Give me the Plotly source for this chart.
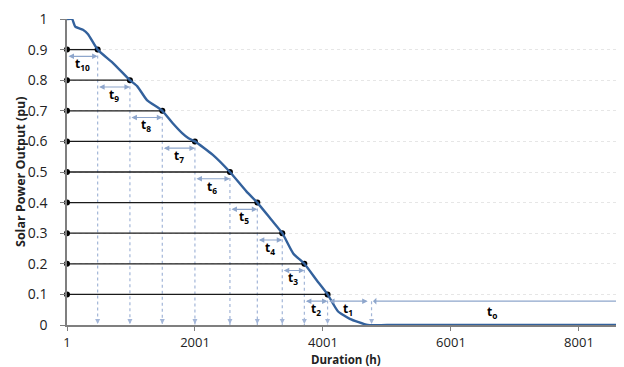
import plotly.graph_objects as go

# Duration curve (hours vs per-unit output)
duration = [1, 80, 130, 250, 330, 480, 720, 984, 1100, 1250, 1490, 1650, 1800, 1900, 2000,
            2280, 2547, 2807, 2975, 3198, 3365, 3536, 3710, 3900, 4073, 4234, 4420, 4700, 5000, 8760]
power = [1.0, 1.0, 0.975, 0.965, 0.95, 0.9, 0.856, 0.8, 0.78, 0.735, 0.7, 0.66, 0.627, 0.61, 0.6,
         0.556, 0.5, 0.436, 0.4, 0.343, 0.3, 0.234, 0.2, 0.147, 0.1, 0.045, 0.02, 0.0, 0.0, 0.0]

# Level crossings
levels = [0.9, 0.8, 0.7, 0.6, 0.5, 0.4, 0.3, 0.2, 0.1]
cross_h = [480, 984, 1490, 2000, 2547, 2975, 3365, 3710, 4073]
zero_h = 4700
t0_start = 4760
x_end = 8705

labels = ["t<sub>10</sub>", "t<sub>9</sub>", "t<sub>8</sub>", "t<sub>7</sub>", "t<sub>6</sub>",
          "t<sub>5</sub>", "t<sub>4</sub>", "t<sub>3</sub>", "t<sub>2</sub>", "t<sub>1</sub>", "t<sub>o</sub>"]

y_ticks = [0, 0.1, 0.2, 0.3, 0.4, 0.5, 0.6, 0.7, 0.8, 0.9, 1]
y_ticktext = ["0", "0.1", "0.2", "0.3", "0.4", "0.5", "0.6", "0.7", "0.8", "0.9", "1"]
x_ticks = [1, 2001, 4001, 6001, 8001]
x_ticktext = ["1", "2001", "4001", "6001", "8001"]

FONT = "Open Sans"
ARROW = "#8ea6cc"
VDOT = "#a3b6d8"

fig = go.Figure()

# vertical dotted drop lines
vx, vy = [], []
for h, lv in zip(cross_h, levels):
    vx += [h, h, None]
    vy += [lv, 0, None]
vx += [t0_start, t0_start, None]
vy += [0.078, 0, None]
fig.add_trace(go.Scatter(x=vx, y=vy, mode="lines",
                         line=dict(color=VDOT, width=1.2, dash="dot"),
                         hoverinfo="skip", showlegend=False))

# black horizontal lines with end dots
for h, lv in zip(cross_h, levels):
    fig.add_trace(go.Scatter(x=[1, h], y=[lv, lv], mode="lines+markers",
                             line=dict(color="#1a1a1a", width=1.3),
                             marker=dict(color="black", size=6),
                             cliponaxis=False, hoverinfo="skip", showlegend=False))

# curve
fig.add_trace(go.Scatter(x=duration, y=power, mode="lines",
                         line=dict(color="#33619c", width=2.4, shape="spline", smoothing=0.5),
                         hoverinfo="skip", showlegend=False))

annotations = []
# interval arrows and labels
starts = [1] + cross_h
ends = cross_h + [zero_h]
arrow_lv = levels + [0.1]
for i, (s, e, lv) in enumerate(zip(starts, ends, arrow_lv)):
    ya = lv - 0.022
    annotations.append(dict(x=e, y=ya, ax=s, ay=ya, xref="x", yref="y", axref="x", ayref="y",
                            text="", showarrow=True, arrowside="end+start", arrowhead=2,
                            arrowsize=1, arrowwidth=1.1, arrowcolor=ARROW, standoff=0, startstandoff=0))
    annotations.append(dict(x=(s + e) / 2, y=lv - 0.048, xref="x", yref="y",
                            text="<b>" + labels[i] + "</b>", showarrow=False,
                            font=dict(family=FONT, size=12, color="black")))
# t0 arrow
annotations.append(dict(x=x_end, y=0.078, ax=t0_start, ay=0.078, xref="x", yref="y", axref="x", ayref="y",
                        text="", showarrow=True, arrowside="start", arrowhead=2,
                        arrowsize=1, arrowwidth=1.1, arrowcolor=ARROW, standoff=0, startstandoff=0))
annotations.append(dict(x=6640, y=0.044, xref="x", yref="y", text="<b>" + labels[10] + "</b>",
                        showarrow=False, font=dict(family=FONT, size=12, color="black")))
# arrowheads at the bottom of drop lines
for h in cross_h + [t0_start]:
    annotations.append(dict(x=h, y=0, xref="x", yref="y", ax=0, ay=-7, text="", showarrow=True,
                            arrowhead=2, arrowsize=1, arrowwidth=1.0, arrowcolor=VDOT, standoff=1))
# axis titles
annotations.append(dict(x=0.5, y=-34 / 306, xref="paper", yref="paper", yanchor="middle",
                        text="<b>Duration (h)</b>", showarrow=False, borderpad=0,
                        font=dict(family=FONT, size=11.5, color="#222")))
annotations.append(dict(x=-47 / 557, y=0.5, xref="paper", yref="paper", xanchor="center", yanchor="middle",
                        text="<b>Solar Power Output (pu)</b>", showarrow=False, textangle=-90,
                        font=dict(family=FONT, size=12.5, color="#222")))

fig.update_layout(
    width=624, height=367,
    margin=dict(l=59, r=8, t=11, b=50, autoexpand=False),
    paper_bgcolor="white", plot_bgcolor="white",
    font=dict(family=FONT, size=14, color="#222"),
    annotations=annotations,
    xaxis=dict(range=[1, x_end], tickmode="array", tickvals=x_ticks, ticktext=x_ticktext,
               showgrid=False, zeroline=False, showline=True, linecolor="#7f7f7f", linewidth=1.5,
               ticks="outside", ticklen=4, tickcolor="#7f7f7f", ticklabelstandoff=1,
               automargin=False,
               tickfont=dict(family=FONT, size=13, color="#222")),
    yaxis=dict(range=[0, 1], tickmode="array", tickvals=y_ticks, ticktext=y_ticktext,
               showgrid=True, gridcolor="#e6e6e6", griddash="dot", gridwidth=1.2,
               zeroline=False, showline=True, linecolor="#7f7f7f", linewidth=1.5,
               ticks="outside", ticklen=5, tickcolor="#7f7f7f", ticklabelstandoff=10,
               automargin=False,
               tickfont=dict(family=FONT, size=14, color="#222")),
)

fig.write_html("out.html")
